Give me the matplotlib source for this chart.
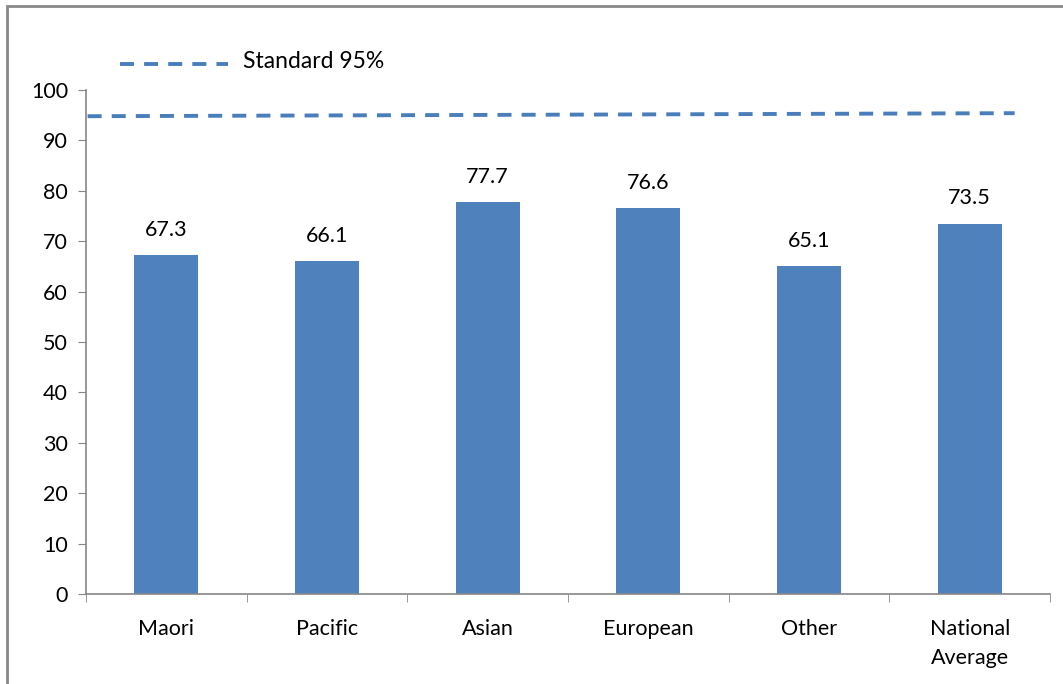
import matplotlib.pyplot as plt
from matplotlib.lines import Line2D
from matplotlib.patches import Rectangle

plt.rcParams['font.family'] = ['Lato', 'DejaVu Sans']
plt.rcParams['font.size'] = 15.5

categories = ['Maori', 'Pacific', 'Asian', 'European', 'Other', 'National\nAverage']
coverage = [67.3, 66.1, 77.7, 76.6, 65.1, 73.5]
standard_label = 'Standard 95%'
standard_ends = [94.8, 95.4]   # the drawn target line drifts a little left to right
standard_span = [-0.49, 5.28]
y_ticks = list(range(0, 101, 10))

BAR_COLOR = '#4F81BD'
LINE_COLOR = '#4A7EBB'
AXIS_COLOR = '#868686'
DASH = (3.6, 2.6)
LINE_W = 2.8

fig = plt.figure(figsize=(10.63, 6.84), dpi=100)
ax = fig.add_axes([86/1063, 1 - 594/684, (1050 - 86)/1063, (594 - 90)/684])

x = list(range(len(categories)))
bars = ax.bar(x, coverage, width=0.4, color=BAR_COLOR, zorder=2)
for b, v in zip(bars, coverage):
    ax.annotate(f'{v:.1f}', (b.get_x() + b.get_width()/2, v), xytext=(0, 11),
                textcoords='offset points', ha='center', va='bottom')

ax.plot(standard_span, standard_ends, color=LINE_COLOR, lw=LINE_W,
        dashes=DASH, dash_capstyle='butt', zorder=3)

ax.set_xlim(-0.5, len(categories) - 0.5)
ax.set_ylim(0, 100)
ax.set_yticks(y_ticks)
ax.set_xticks(x)
ax.set_xticklabels(categories, linespacing=1.55)
ax.set_xticks([i - 0.5 for i in range(len(categories) + 1)], minor=True)
ax.tick_params(axis='x', which='major', length=0, pad=18)
ax.tick_params(axis='x', which='minor', length=6, color=AXIS_COLOR, direction='out')
ax.tick_params(axis='y', length=6, color=AXIS_COLOR, direction='out', pad=7)
for side in ['top', 'right']:
    ax.spines[side].set_visible(False)
for side in ['left', 'bottom']:
    ax.spines[side].set_color(AXIS_COLOR)
    ax.spines[side].set_linewidth(1.2)

# legend entry above the plot
fig.add_artist(Line2D([120/1063, 228/1063], [1 - 64/684, 1 - 64/684], color=LINE_COLOR,
                      lw=LINE_W, dashes=DASH, dash_capstyle='butt'))
fig.text(243/1063, 1 - 62/684, standard_label, ha='left', va='center', fontsize=16.5)

# chart area frame (top and left edges show)
fig.add_artist(Rectangle((7/1063, -0.05), 1.1, 1 - 6/684 + 0.05, fill=False,
                         edgecolor='#898989', lw=2, transform=fig.transFigure))

fig.savefig('out.png', dpi=100)
